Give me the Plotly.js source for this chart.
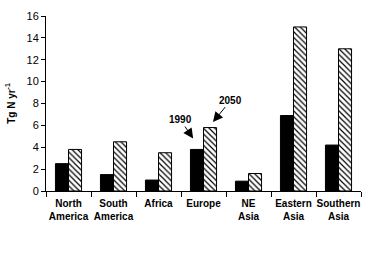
<!DOCTYPE html>
<html><head><meta charset="utf-8">
<script src="https://cdn.plot.ly/plotly-3.0.1.min.js"></script>
<style>html,body{margin:0;padding:0;background:#fff}#c{width:375px;height:258px}</style>
</head><body><div id="c"></div>
<script>
const categories = ["North<br>America","South<br>America","Africa","Europe","NE<br>Asia","Eastern<br>Asia","Southern<br>Asia"];
const y1990 = [2.5, 1.5, 1.0, 3.8, 0.9, 6.9, 4.2];
const y2050 = [3.8, 4.5, 3.5, 5.8, 1.6, 15.0, 13.0];
const yTicks = [0,2,4,6,8,10,12,14,16];

const traces = [
  {type:'bar', name:'1990', x:categories, y:y1990,
   marker:{color:'black', line:{color:'black', width:1}}},
  {type:'bar', name:'2050', x:categories, y:y2050,
   marker:{color:'white', line:{color:'black', width:1},
     pattern:{shape:'\\', size:4, solidity:0.3, fgcolor:'black', bgcolor:'white', fillmode:'replace'}}}
];
const F = 'Arial, "Liberation Sans", sans-serif';
const layout = {
  width:375, height:258,
  margin:{l:46, r:14, t:16, b:67},
  paper_bgcolor:'white', plot_bgcolor:'white',
  showlegend:false,
  barmode:'group', bargap:0.42, bargroupgap:0,
  font:{family:F, size:11, color:'black'},
  xaxis:{showline:true, linecolor:'black', linewidth:1, ticks:'outside', tickson:'boundaries',
    ticklen:5, tickcolor:'black', showgrid:false, zeroline:false, ticklabelstandoff:3,
    tickfont:{family:F, size:10, color:'black', weight:'bold'}, tickangle:0},
  yaxis:{range:[0,16], tickvals:yTicks, showline:true, linecolor:'black', linewidth:1,
    ticks:'outside', ticklen:4, tickcolor:'black', showgrid:false, zeroline:false,
    tickfont:{family:F, size:11, color:'black'},
    title:{text:'Tg N yr<sup>-1</sup>', font:{family:F, size:10, color:'black', weight:'bold'}, standoff:9}},
  annotations:[
    {x:2.77, y:4.8, xref:'x', yref:'y', text:'1990', showarrow:true, ax:-13, ay:-19,
     arrowhead:2, arrowsize:2, arrowwidth:1, arrowcolor:'black',
     font:{family:F, size:10, color:'black', weight:'bold'}},
    {x:3.21, y:6.3, xref:'x', yref:'y', text:'2050', showarrow:true, ax:18, ay:-22,
     arrowhead:2, arrowsize:2, arrowwidth:1, arrowcolor:'black',
     font:{family:F, size:10, color:'black', weight:'bold'}}
  ]
};
Plotly.newPlot('c', traces, layout, {displayModeBar:false, staticPlot:true});
</script></body></html>
